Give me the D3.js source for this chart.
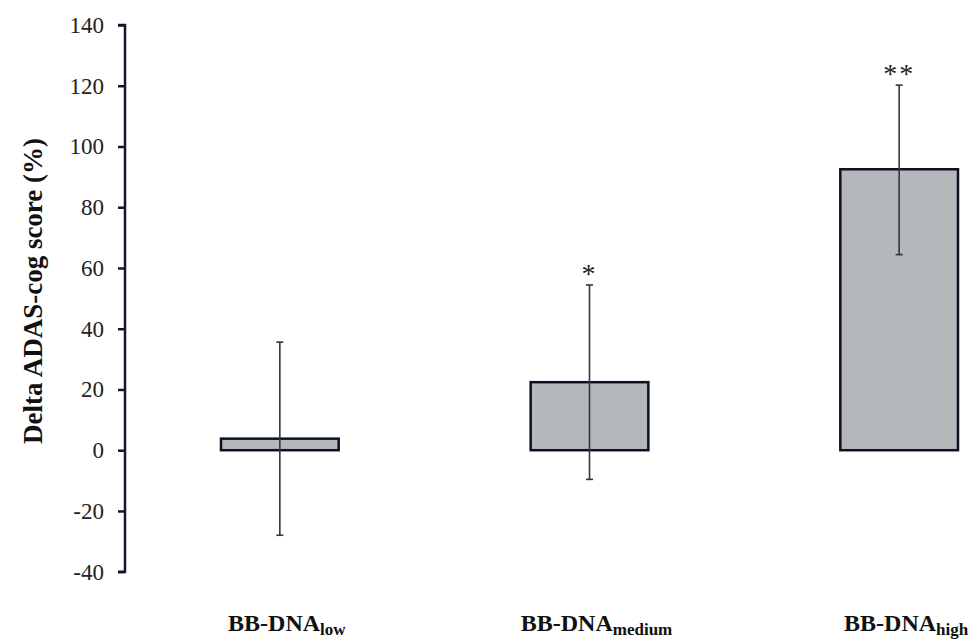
<!DOCTYPE html>
<html>
<head>
<meta charset="utf-8">
<script src="https://cdn.jsdelivr.net/npm/d3@7"></script>
<style>
  body { margin: 0; background: #fff; }
  svg { font-family: "Liberation Serif", "Times New Roman", serif; }
</style>
</head>
<body>
<div id="chart"></div>
<script>
// data
var groups = ['low', 'medium', 'high']
var means = [3.8, 22.4, 92.5]
var errLow = [-28.0, -9.6, 64.4]
var errHigh = [35.6, 54.4, 120.2]
var stars = ['', '*', '**']
var yTicks = [-40, -20, 0, 20, 40, 60, 80, 100, 120, 140]

var width = 971
var height = 639

var svg = d3.select('#chart')
  .append('svg')
  .attr('width', width)
  .attr('height', height)

var yScale = d3.scaleLinear()
  .domain([-40, 140])
  .range([571.7, 25])

var xScale = d3.scaleBand()
  .domain(groups)
  .range([125, 1054])
  .paddingInner(0.62)
  .paddingOuter(0.31)

var axisX = 125

// y axis
var yAxis = d3.axisLeft(yScale)
  .tickValues(yTicks)
  .tickSize(7)
  .tickPadding(14)
  .tickFormat(d => String(d))

var gy = svg.append('g')
  .attr('transform', `translate(${axisX},0)`)
  .call(yAxis)

gy.select('.domain')
  .attr('stroke', '#14142a')
  .attr('stroke-width', 2.5)
  .attr('d', `M-7,${yScale(140)}H0V${yScale(-40)}H-7`)

gy.selectAll('.tick line')
  .attr('stroke', '#14142a')
  .attr('stroke-width', 2.5)

gy.selectAll('.tick text')
  .style('font-family', '"Liberation Serif", serif')
  .style('font-size', '23px')
  .attr('fill', '#222')

// y label
svg.append('text')
  .attr('transform', `translate(42,${291}) rotate(-90)`)
  .attr('text-anchor', 'middle')
  .style('font-size', '27px')
  .style('font-weight', 'bold')
  .attr('fill', '#111')
  .text('Delta ADAS-cog score (%)')

var data = groups.map((g, i) => ({
  g: g, mean: means[i], lo: errLow[i], hi: errHigh[i], star: stars[i]
}))

// bars
svg.selectAll('.bar')
  .data(data)
  .enter()
  .append('rect')
  .attr('class', 'bar')
  .attr('x', d => xScale(d.g))
  .attr('y', d => yScale(Math.max(0, d.mean)))
  .attr('width', xScale.bandwidth())
  .attr('height', d => Math.abs(yScale(d.mean) - yScale(0)))
  .attr('fill', '#b5b8bb')
  .attr('stroke', '#0f0f24')
  .attr('stroke-width', 2.5)

// error bars
var cx = d => xScale(d.g) + xScale.bandwidth() / 2

svg.selectAll('.err')
  .data(data)
  .enter()
  .append('line')
  .attr('class', 'err')
  .attr('x1', cx)
  .attr('x2', cx)
  .attr('y1', d => yScale(d.lo))
  .attr('y2', d => yScale(d.hi))
  .attr('stroke', '#33334a')
  .attr('stroke-width', 1.6)

svg.selectAll('.cap-hi')
  .data(data)
  .enter()
  .append('line')
  .attr('x1', d => cx(d) - 3.5)
  .attr('x2', d => cx(d) + 3.5)
  .attr('y1', d => yScale(d.hi))
  .attr('y2', d => yScale(d.hi))
  .attr('stroke', '#33334a')
  .attr('stroke-width', 1.6)

svg.selectAll('.cap-lo')
  .data(data)
  .enter()
  .append('line')
  .attr('x1', d => cx(d) - 3.5)
  .attr('x2', d => cx(d) + 3.5)
  .attr('y1', d => yScale(d.lo))
  .attr('y2', d => yScale(d.lo))
  .attr('stroke', '#33334a')
  .attr('stroke-width', 1.6)

// significance marks
svg.selectAll('.star')
  .data(data.filter(d => d.star))
  .enter()
  .append('text')
  .attr('x', cx)
  .attr('y', d => yScale(d.hi) - 2)
  .attr('text-anchor', 'middle')
  .style('font-size', '28px')
  .style('letter-spacing', '2px')
  .attr('fill', '#222')
  .text(d => d.star)

// category labels with subscripts
var labels = svg.selectAll('.x-label')
  .data(data)
  .enter()
  .append('text')
  .attr('class', 'x-label')
  .attr('x', d => cx(d) + 7)
  .attr('y', 631)
  .attr('text-anchor', 'middle')
  .style('font-size', '24px')
  .style('font-weight', 'bold')
  .attr('fill', '#111')

labels.append('tspan').text('BB-DNA')
labels.append('tspan')
  .attr('dy', 4)
  .style('font-size', '17px')
  .text(d => d.g)
</script>
</body>
</html>
